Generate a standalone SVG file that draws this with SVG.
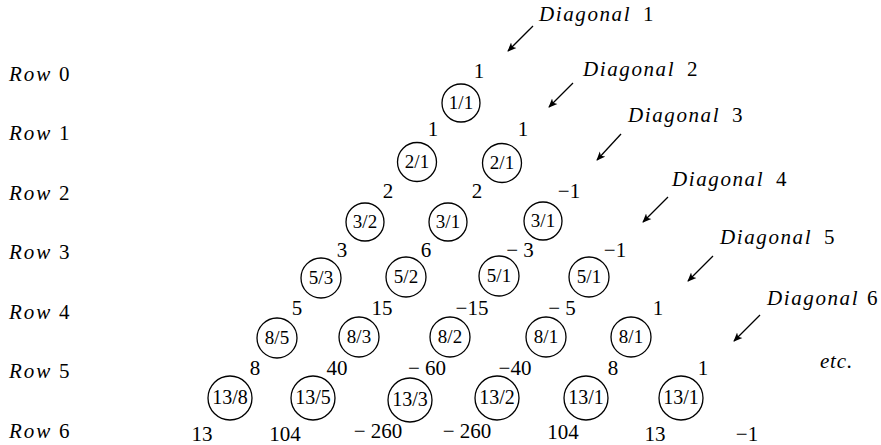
<svg xmlns="http://www.w3.org/2000/svg" width="881" height="445" viewBox="0 0 881 445" font-family="Liberation Serif">
<style>
text{font-family:"Liberation Serif","Times New Roman",serif;fill:#000}
.num{font-size:21px;text-anchor:middle}
.lbl{font-size:21px}
.lbl .it{letter-spacing:2px}
.it{font-style:italic}
.dg{font-size:21px}
.dg .it{letter-spacing:1.6px}
.node circle{fill:#fff;stroke:#000;stroke-width:1.3}
.node text{font-size:19px;text-anchor:middle}
.node.big text{font-size:20px}
.conn line{stroke:#000;stroke-width:1.3;marker-end:url(#ah)}
</style>
<defs>
<marker id="ah" viewBox="0 0 10 10" refX="9" refY="5" markerWidth="9" markerHeight="9" markerUnits="userSpaceOnUse" orient="auto">
<path d="M0,0.8 L10,5 L0,9.2 L2.5,5 Z" fill="#000"/>
</marker>
</defs>
<rect width="881" height="445" fill="#fff"/>
<g id="row-labels">
<text class="lbl" y="81"><tspan class="it" x="9">Row</tspan><tspan x="59">0</tspan></text>
<text class="lbl" y="140"><tspan class="it" x="9">Row</tspan><tspan x="59">1</tspan></text>
<text class="lbl" y="200"><tspan class="it" x="9">Row</tspan><tspan x="59">2</tspan></text>
<text class="lbl" y="259"><tspan class="it" x="9">Row</tspan><tspan x="59">3</tspan></text>
<text class="lbl" y="319"><tspan class="it" x="9">Row</tspan><tspan x="59">4</tspan></text>
<text class="lbl" y="378"><tspan class="it" x="9">Row</tspan><tspan x="59">5</tspan></text>
<text class="lbl" y="438"><tspan class="it" x="9">Row</tspan><tspan x="59">6</tspan></text>
</g>
<g id="diagonal-labels">
<text class="dg" y="21"><tspan class="it" x="539">Diagonal</tspan><tspan x="643">1</tspan></text>
<text class="dg" y="76"><tspan class="it" x="583">Diagonal</tspan><tspan x="687">2</tspan></text>
<text class="dg" y="122"><tspan class="it" x="628">Diagonal</tspan><tspan x="732">3</tspan></text>
<text class="dg" y="186"><tspan class="it" x="672">Diagonal</tspan><tspan x="776">4</tspan></text>
<text class="dg" y="244"><tspan class="it" x="720">Diagonal</tspan><tspan x="824">5</tspan></text>
<text class="dg" y="305"><tspan class="it" x="767">Diagonal</tspan><tspan x="867">6</tspan></text>
<text class="dg it" x="820" y="368" letter-spacing="0.8">etc.</text>
</g>
<g id="connectors" class="conn">
<line x1="533" y1="26" x2="508" y2="51"/>
<line x1="573" y1="83" x2="549" y2="107"/>
<line x1="621" y1="134" x2="597" y2="160"/>
<line x1="668" y1="197" x2="643" y2="222"/>
<line x1="713" y1="256" x2="688" y2="281"/>
<line x1="760" y1="315" x2="734" y2="341"/>
</g>
<g id="coefficients">
<text class="num" x="479" y="78">1</text>
<text class="num" x="433" y="136">1</text>
<text class="num" x="523" y="136">1</text>
<text class="num" x="388" y="198">2</text>
<text class="num" x="477" y="198">2</text>
<text class="num" x="569" y="198">−1</text>
<text class="num" x="342" y="257">3</text>
<text class="num" x="426" y="257">6</text>
<text class="num" x="520" y="257">− 3</text>
<text class="num" x="615" y="257">−1</text>
<text class="num" x="297" y="315">5</text>
<text class="num" x="382" y="315">15</text>
<text class="num" x="472" y="315">−15</text>
<text class="num" x="562" y="315">− 5</text>
<text class="num" x="658" y="315">1</text>
<text class="num" x="255" y="375">8</text>
<text class="num" x="337" y="375">40</text>
<text class="num" x="427" y="375">− 60</text>
<text class="num" x="515" y="375">−40</text>
<text class="num" x="613" y="375">8</text>
<text class="num" x="703" y="375">1</text>
<text class="num" x="202" y="441">13</text>
<text class="num" x="285" y="441">104</text>
<text class="num" x="378" y="438">− 260</text>
<text class="num" x="467" y="438">− 260</text>
<text class="num" x="563" y="439">104</text>
<text class="num" x="655" y="441">13</text>
<text class="num" x="747" y="441">−1</text>
</g>
<g id="n0-1" class="node"><circle cx="461" cy="103" r="19"/><text x="461" y="109">1/1</text></g>
<g id="n1-1" class="node"><circle cx="417" cy="162" r="19.5"/><text x="417" y="168">2/1</text></g>
<g id="n1-2" class="node"><circle cx="502" cy="163" r="19.5"/><text x="502" y="169">2/1</text></g>
<g id="n2-1" class="node"><circle cx="365" cy="222" r="19"/><text x="365" y="228">3/2</text></g>
<g id="n2-2" class="node"><circle cx="448" cy="222" r="19"/><text x="448" y="228">3/1</text></g>
<g id="n2-3" class="node"><circle cx="543" cy="221" r="19"/><text x="543" y="227">3/1</text></g>
<g id="n3-1" class="node"><circle cx="321" cy="278" r="20"/><text x="321" y="284">5/3</text></g>
<g id="n3-2" class="node"><circle cx="406" cy="277" r="20"/><text x="406" y="283">5/2</text></g>
<g id="n3-3" class="node"><circle cx="499" cy="276" r="20"/><text x="499" y="282">5/1</text></g>
<g id="n3-4" class="node"><circle cx="589" cy="277" r="20"/><text x="589" y="283">5/1</text></g>
<g id="n4-1" class="node"><circle cx="277" cy="338" r="20"/><text x="277" y="344">8/5</text></g>
<g id="n4-2" class="node"><circle cx="359" cy="337" r="20"/><text x="359" y="343">8/3</text></g>
<g id="n4-3" class="node"><circle cx="450" cy="337" r="20"/><text x="450" y="343">8/2</text></g>
<g id="n4-4" class="node"><circle cx="546" cy="337" r="20"/><text x="546" y="343">8/1</text></g>
<g id="n4-5" class="node"><circle cx="631" cy="337" r="20"/><text x="631" y="343">8/1</text></g>
<g id="n5-1" class="node big"><circle cx="230" cy="398" r="22"/><text x="230" y="404">13/8</text></g>
<g id="n5-2" class="node big"><circle cx="313" cy="398" r="22"/><text x="313" y="404">13/5</text></g>
<g id="n5-3" class="node big"><circle cx="410" cy="400" r="22"/><text x="410" y="406">13/3</text></g>
<g id="n5-4" class="node big"><circle cx="497" cy="398" r="22"/><text x="497" y="404">13/2</text></g>
<g id="n5-5" class="node big"><circle cx="586" cy="398" r="22"/><text x="586" y="404">13/1</text></g>
<g id="n5-6" class="node big"><circle cx="681" cy="398" r="22"/><text x="681" y="404">13/1</text></g>
</svg>
